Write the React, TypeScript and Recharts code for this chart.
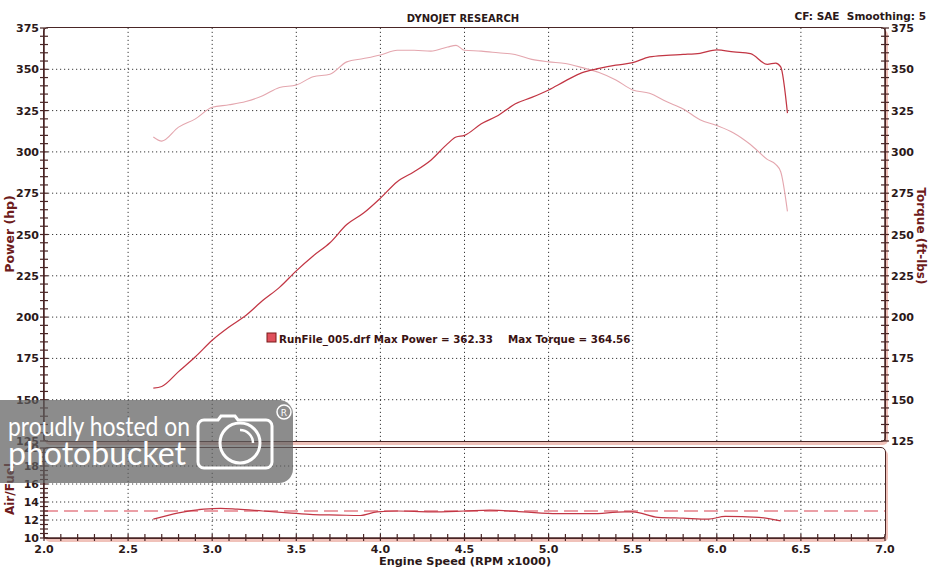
import { LineChart, Line, XAxis, YAxis, ReferenceLine } from "recharts"

// dyno run, rpm x1000
const rpm = [
  2.65, 2.7, 2.8, 2.9, 3.0, 3.1, 3.2, 3.3, 3.4, 3.5, 3.6, 3.7, 3.8, 3.9, 4.0, 4.1, 4.2, 4.3, 4.4, 4.45,
  4.5, 4.6, 4.7, 4.8, 4.9, 5.0, 5.1, 5.2, 5.3, 5.4, 5.5, 5.6, 5.7, 5.8, 5.9, 6.0, 6.1, 6.2, 6.3, 6.35,
  6.38, 6.42,
]
const power = [
  157, 158, 167, 176, 186, 194, 201, 210, 218, 228, 237, 245, 256, 263, 272, 282, 288, 295, 305, 309,
  310, 317, 322, 329, 333, 337.5, 343, 348, 350.5, 352.5, 354, 357.5, 358.5, 359, 359.7, 361.7, 360.5,
  359.5, 353, 353.8, 351.5, 323.5,
]
const torque = [
  309, 306.5, 315, 320, 327, 328.5, 330.5, 334, 339, 340.5, 345.5, 347, 354.5, 356.5, 358.7, 361.5,
  361.5, 361, 363.5, 364.5, 361.5, 361, 360, 359, 356, 354.5, 353.5, 351, 348, 343.5, 337.5, 335.5,
  330.5, 326, 319.5, 316, 311.5, 304.5, 295.5, 292.5, 288, 264,
]

const afRpm = [
  2.65, 2.8, 2.95, 3.05, 3.15, 3.3, 3.45, 3.6, 3.75, 3.88, 3.98, 4.1, 4.3, 4.5, 4.65, 4.85, 5.05, 5.25,
  5.45, 5.5, 5.65, 5.8, 5.95, 6.05, 6.25, 6.38,
]
const airFuel = [
  12.1, 12.8, 13.2, 13.3, 13.2, 13.0, 12.8, 12.6, 12.55, 12.5, 12.9, 13.0, 12.9, 13.0, 13.1, 12.9, 12.7,
  12.7, 12.9, 12.9, 12.3, 12.2, 12.1, 12.4, 12.3, 11.9,
]
const afTarget = 13.0

const hpLabels = [125, 150, 175, 200, 225, 250, 275, 300, 325, 350, 375]
const rpmLabels = [2.0, 2.5, 3.0, 3.5, 4.0, 4.5, 5.0, 5.5, 6.0, 6.5, 7.0]
const afLabels = [10, 12, 14, 16, 18, 20]

const hpMinor = Array.from({ length: 51 }, (_, i) => 125 + i * 5)
const rpmMinor = Array.from({ length: 51 }, (_, i) => Math.round((2 + i * 0.1) * 10) / 10)
const afMinor = Array.from({ length: 21 }, (_, i) => 10 + i * 0.5)

const dynoData = rpm.map((r, i) => ({ rpm: r, power: power[i], torque: torque[i] }))
const afData = afRpm.map((r, i) => ({ rpm: r, afr: airFuel[i] }))

const AXIS = "#4a2626"
const TEXT = "#2b1818"
const TITLE = "#6e1c1c"
const FONT = "DejaVu Sans, Verdana, sans-serif"
const GRID = { stroke: "#3a3a3a", strokeDasharray: "1.2 2.8", strokeWidth: 1 }

const isMajor = (v: number, majors: number[]) => majors.some((m) => Math.abs(m - v) < 1e-6)

function YTick(props: any) {
  const { x, y, payload, side, majors } = props
  const v = payload.value
  const major = isMajor(v, majors)
  const left = side === "left"
  return (
    <g>
      <line x1={x - 4} x2={x + 4} y1={y} y2={y} stroke={AXIS} strokeWidth={1.2} />
      {major && (
        <text
          x={left ? x - 5 : x + 6}
          y={y}
          dy={4}
          textAnchor={left ? "end" : "start"}
          fontFamily={FONT}
          fontWeight="bold"
          fontSize={11}
          fill={TEXT}
        >
          {v}
        </text>
      )}
    </g>
  )
}

function XTick(props: any) {
  const { x, y, payload } = props
  const v = payload.value
  const major = isMajor(v, rpmLabels)
  return (
    <g>
      <line x1={x} x2={x} y1={y - 4} y2={y + 3} stroke={AXIS} strokeWidth={1.2} />
      {major && (
        <text x={x} y={y + 15} textAnchor="middle" fontFamily={FONT} fontWeight="bold" fontSize={11} fill={TEXT}>
          {v.toFixed(1)}
        </text>
      )}
    </g>
  )
}

const panel = {
  position: "absolute" as const,
  boxSizing: "border-box" as const,
  border: `1.5px solid ${AXIS}`,
  borderRadius: 5,
  boxShadow: "2px 3px 0 #f0c2ba",
}

export default function App() {
  return (
    <div style={{ position: "absolute", left: 0, top: 0, width: 933, height: 569, background: "#fff", overflow: "hidden" }}>
      <div style={{ ...panel, left: 43, top: 27, width: 843, height: 415 }} />
      <div style={{ ...panel, left: 43, top: 447, width: 843, height: 92 }} />

      <div style={{ position: "absolute", left: 0, top: 0 }}>
        <LineChart width={933} height={450} data={dynoData} margin={{ top: 28, right: 0, bottom: 9, left: 0 }}>
          <XAxis type="number" dataKey="rpm" domain={[2, 7]} hide />
          <YAxis
            yAxisId="left"
            orientation="left"
            width={44}
            domain={[125, 375]}
            ticks={hpMinor}
            interval={0}
            tickSize={0}
            tickMargin={0}
            tickLine={false}
            axisLine={{ stroke: AXIS, strokeWidth: 1.5 }}
            tick={<YTick side="left" majors={hpLabels} />}
          />
          <YAxis
            yAxisId="right"
            orientation="right"
            width={48}
            domain={[125, 375]}
            ticks={hpMinor}
            interval={0}
            tickSize={0}
            tickMargin={0}
            tickLine={false}
            axisLine={{ stroke: AXIS, strokeWidth: 1.5 }}
            tick={<YTick side="right" majors={hpLabels} />}
          />
          {hpLabels.slice(1, -1).map((v) => (
            <ReferenceLine key={"h" + v} yAxisId="left" y={v} {...GRID} />
          ))}
          {rpmLabels.slice(1, -1).map((v) => (
            <ReferenceLine key={"v" + v} yAxisId="left" x={v} {...GRID} />
          ))}
          <Line
            yAxisId="right"
            type="monotone"
            dataKey="torque"
            stroke="#e4a6ae"
            strokeWidth={1.1}
            dot={false}
            isAnimationActive={false}
          />
          <Line
            yAxisId="left"
            type="monotone"
            dataKey="power"
            stroke="#c23644"
            strokeWidth={1.25}
            dot={false}
            isAnimationActive={false}
          />
        </LineChart>
      </div>

      <div style={{ position: "absolute", left: 0, top: 440 }}>
        <LineChart width={933} height={129} data={afData} margin={{ top: 8, right: 48, bottom: 0, left: 0 }}>
          <XAxis
            type="number"
            dataKey="rpm"
            domain={[2, 7]}
            ticks={rpmMinor}
            interval={0}
            height={31}
            tickSize={0}
            tickMargin={0}
            tickLine={false}
            axisLine={{ stroke: AXIS, strokeWidth: 1.5 }}
            tick={<XTick />}
          />
          <YAxis
            width={44}
            domain={[10, 20]}
            ticks={afMinor}
            interval={0}
            tickSize={0}
            tickMargin={0}
            tickLine={false}
            axisLine={{ stroke: AXIS, strokeWidth: 1.5 }}
            tick={<YTick side="left" majors={afLabels} />}
          />
          {afLabels.slice(1, -1).map((v) => (
            <ReferenceLine key={"ah" + v} y={v} {...GRID} />
          ))}
          {rpmLabels.slice(1, -1).map((v) => (
            <ReferenceLine key={"av" + v} x={v} {...GRID} />
          ))}
          <ReferenceLine y={afTarget} stroke="#d8404e" strokeWidth={1.2} strokeDasharray="14 6" />
          <Line type="monotone" dataKey="afr" stroke="#c23644" strokeWidth={1.2} dot={false} isAnimationActive={false} />
        </LineChart>
      </div>

      <svg width={933} height={569} style={{ position: "absolute", left: 0, top: 0, pointerEvents: "none" }}>
        <text x={463} y={22} textAnchor="middle" fontFamily={FONT} fontWeight="bold" fontSize={10} fill={TEXT}>
          DYNOJET RESEARCH
        </text>
        <text x={926} y={20} textAnchor="end" fontFamily={FONT} fontWeight="bold" fontSize={10.5} fill={TEXT} xmlSpace="preserve">
          CF: SAE  Smoothing: 5
        </text>
        <text
          transform="translate(14,234) rotate(-90)"
          textAnchor="middle"
          fontFamily={FONT}
          fontWeight="bold"
          fontSize={12.5}
          fill={TITLE}
        >
          Power (hp)
        </text>
        <text
          transform="translate(917,236) rotate(90)"
          textAnchor="middle"
          fontFamily={FONT}
          fontWeight="bold"
          fontSize={12}
          fill={TITLE}
        >
          Torque (ft-lbs)
        </text>
        <text
          transform="translate(14,489) rotate(-90)"
          textAnchor="middle"
          fontFamily={FONT}
          fontWeight="bold"
          fontSize={12}
          fill={TITLE}
        >
          Air/Fuel
        </text>
        <text x={465} y={565} textAnchor="middle" fontFamily={FONT} fontWeight="bold" fontSize={11.3} fill={TEXT}>
          Engine Speed (RPM x1000)
        </text>

        <rect x={267} y={333} width={9} height={9} fill="#e0505c" stroke="#7a1a1a" strokeWidth={1} />
        <text x={279} y={343} fontFamily={FONT} fontWeight="bold" fontSize={10.3} fill="#3a1212">
          RunFile_005.drf Max Power = 362.33
        </text>
        <text x={508} y={343} fontFamily={FONT} fontWeight="bold" fontSize={10.3} fill="#3a1212">
          Max Torque = 364.56
        </text>

        <g>
          <rect x={-20} y={400} width={313} height={83} rx={14} fill="rgba(95,95,95,0.72)" />
          <text x={8} y={436} fontFamily="Lato, Noto Sans, sans-serif" fontSize={27} fill="#fff" textLength={182} lengthAdjust="spacingAndGlyphs">
            proudly hosted on
          </text>
          <text x={8} y={465} fontFamily="Lato, Noto Sans, sans-serif" fontSize={33} fill="#fff" textLength={178} lengthAdjust="spacingAndGlyphs">
            photobucket
          </text>
          <path d="M204 420 h14 l3 -4 h14 l3 4 h28 a6 6 0 0 1 6 6 v36 a6 6 0 0 1 -6 6 h-62 a6 6 0 0 1 -6 -6 v-36 a6 6 0 0 1 6 -6 z" fill="none" stroke="#fff" strokeWidth={3} />
          <circle cx={240} cy={443} r={20} fill="none" stroke="#fff" strokeWidth={3} />
          <path d="M240 430 a13 13 0 0 1 13 13" fill="none" stroke="#fff" strokeWidth={2.5} />
          <circle cx={284} cy={412} r={7} fill="none" stroke="#fff" strokeWidth={1.5} />
          <text x={284} y={416} textAnchor="middle" fontFamily={FONT} fontSize={9} fill="#fff">
            R
          </text>
        </g>
      </svg>
    </div>
  )
}
